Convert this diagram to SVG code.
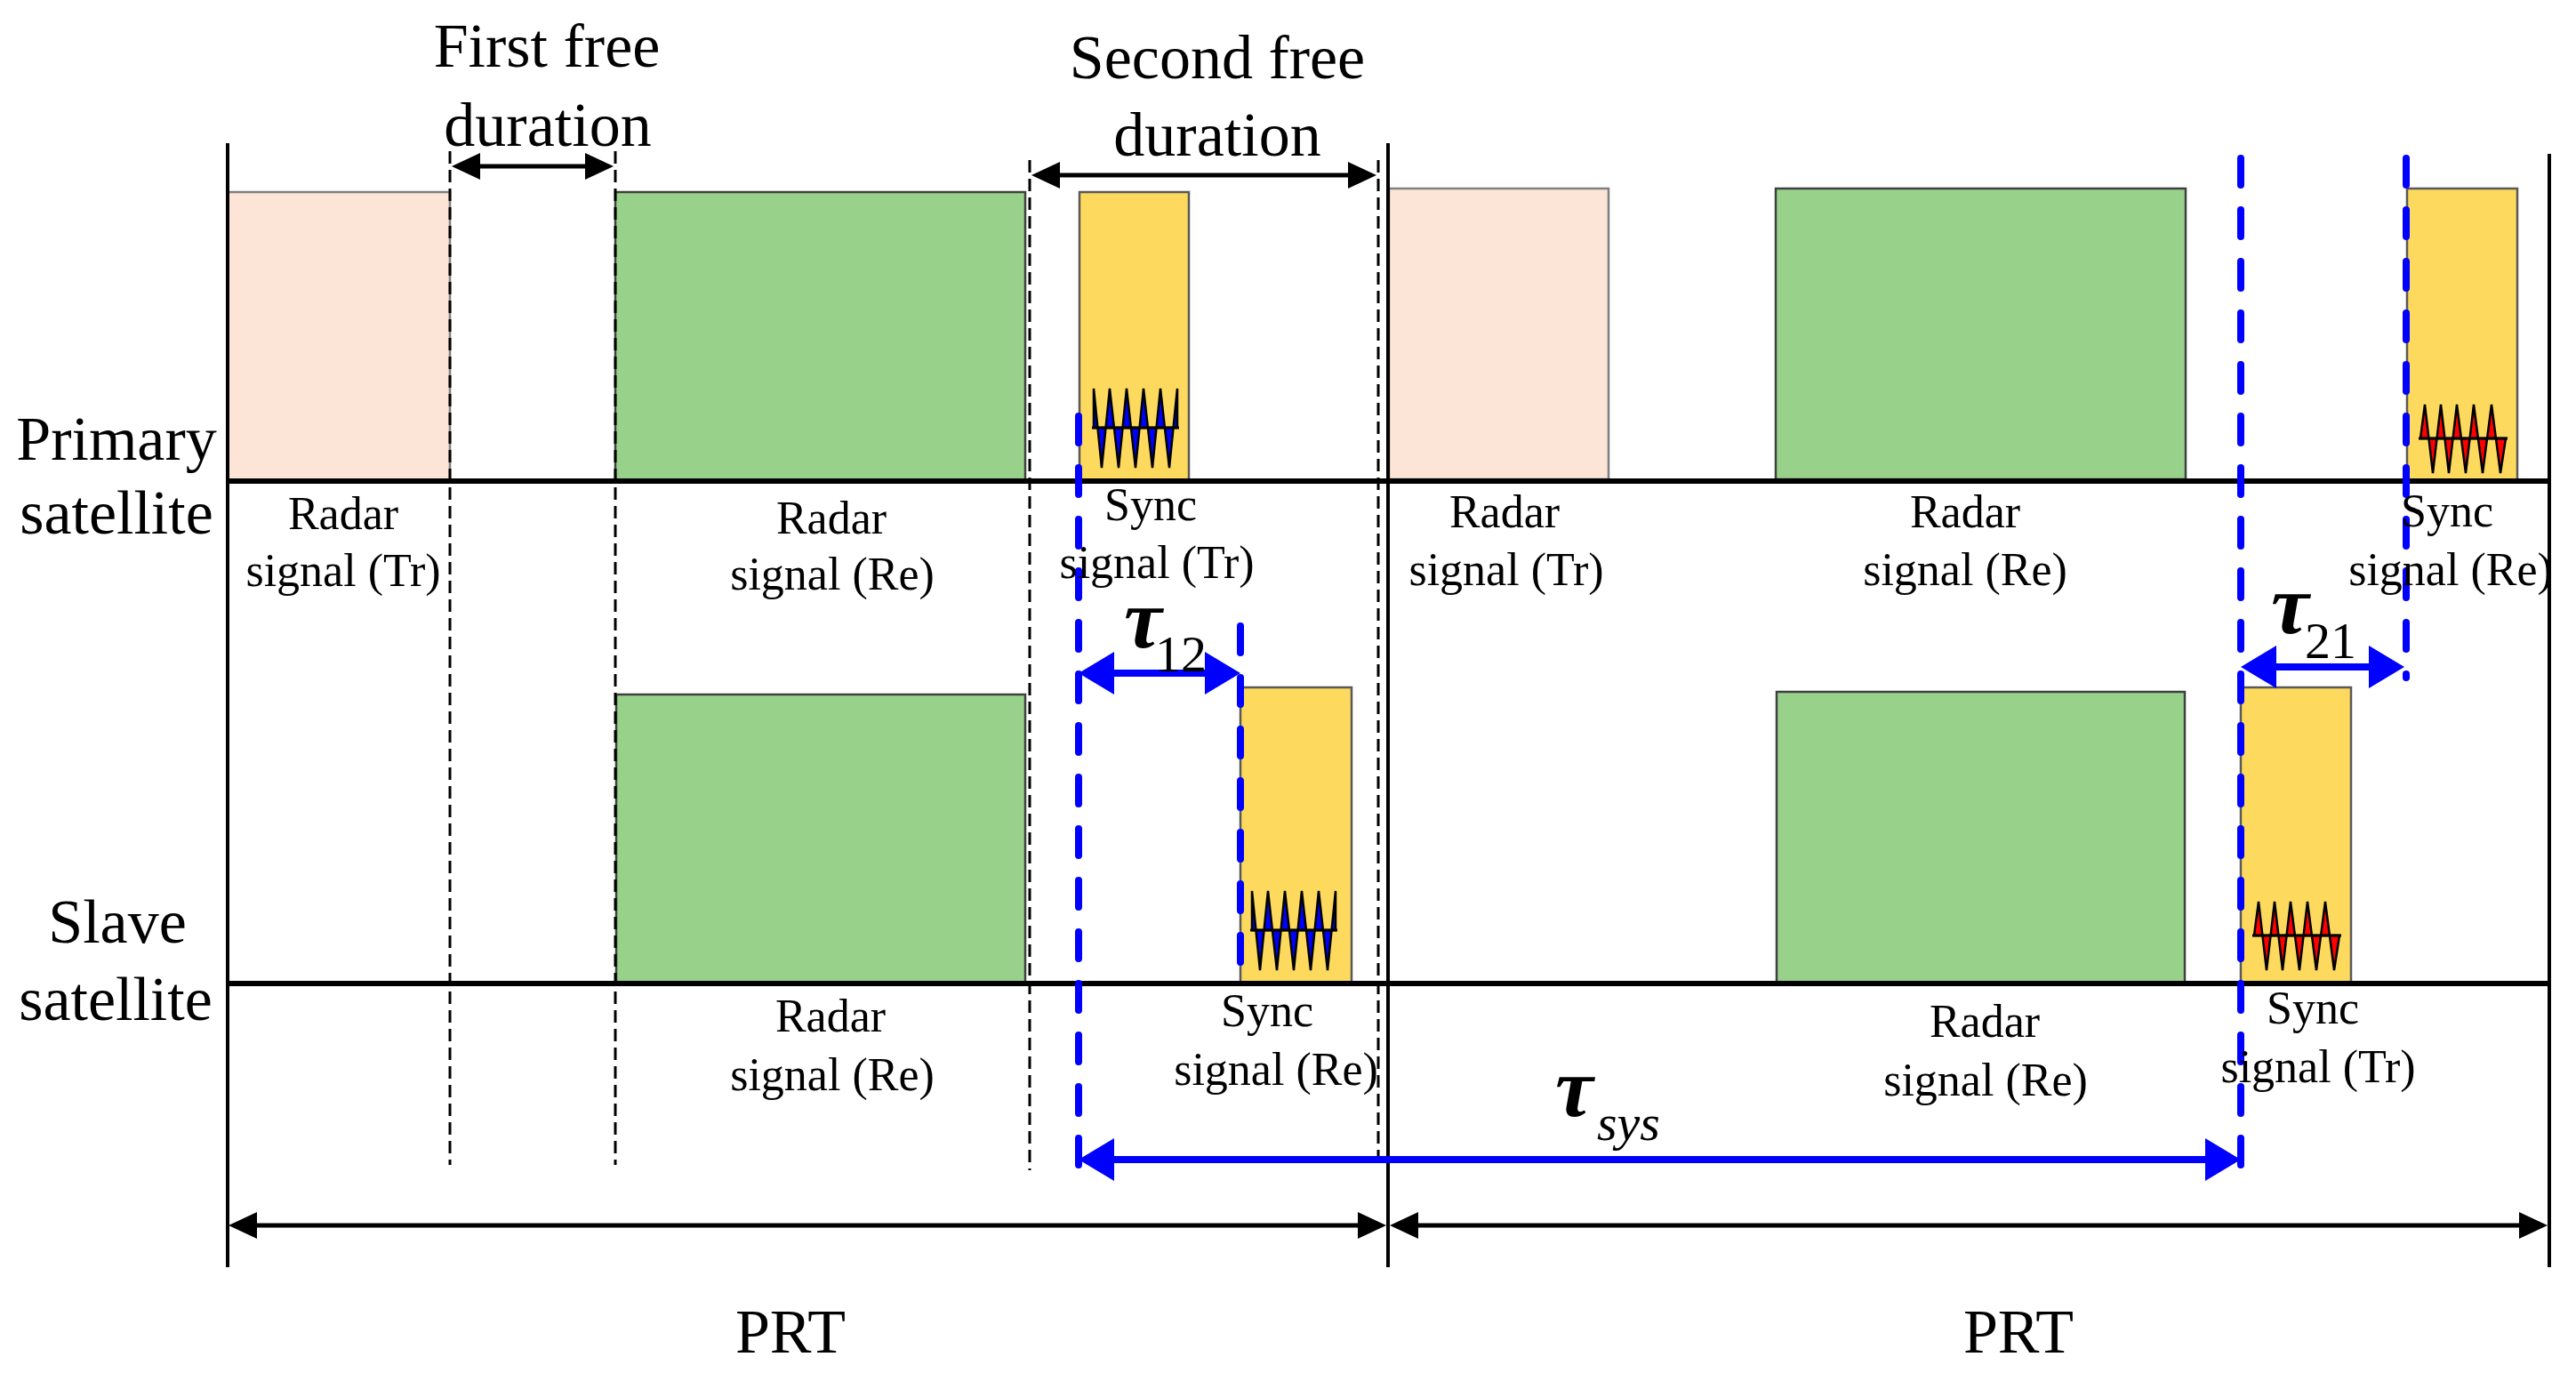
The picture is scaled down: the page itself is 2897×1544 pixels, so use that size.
<svg xmlns="http://www.w3.org/2000/svg" width="2897" height="1544" viewBox="0 0 2897 1544">
<style>
text{font-family:"Liberation Serif","Times New Roman",serif;fill:#000}
.lbl{font-size:52px;text-anchor:middle}
.big{font-size:70px;text-anchor:middle}
.tau{font-size:96px;font-style:italic;font-weight:bold}
.sub{font-size:58px}
.subi{font-size:58px;font-style:italic}
.ax{stroke:#000;stroke-width:6}
.vl{stroke:#000;stroke-width:4}
.dash{stroke:#000;stroke-width:3;stroke-dasharray:14 7}
.bdash{stroke:#0000FF;stroke-width:8;stroke-dasharray:30 28;stroke-linecap:round}
.peach{fill:#FCE4D6;stroke:#7F7F7F;stroke-width:2.5}
.green{fill:#98D28A;stroke:#404040;stroke-width:2.5}
.yellow{fill:#FDD95E;stroke:#595959;stroke-width:2.5}
.wb{fill:#0000FF;stroke:#000;stroke-width:2.5;stroke-linejoin:miter}
.wr{fill:#FF0000;stroke:#000;stroke-width:2.5}
.mid{stroke:#000;stroke-width:3}
.barr{stroke:#000;stroke-width:5;fill:none}
.blarr{stroke:#0000FF;stroke-width:8;fill:none}
</style>
<defs>
<marker id="ah" viewBox="0 0 32 30" refX="12" refY="15" markerWidth="32" markerHeight="30" markerUnits="userSpaceOnUse" orient="auto-start-reverse"><path d="M0,0 L32,15 L0,30 Z" fill="#000"/></marker>
<marker id="bh" viewBox="0 0 40 48" refX="20" refY="24" markerWidth="40" markerHeight="48" markerUnits="userSpaceOnUse" orient="auto-start-reverse"><path d="M0,0 L40,24 L0,48 Z" fill="#0000FF"/></marker>
<g id="wave-blue">
<path class="wb" d="M1230,481 L1230,437 L1239,526 L1248,437 L1258,526 L1267,437 L1277,526 L1286,437 L1296,526 L1305,437 L1315,526 L1324,437 L1324,481 Z"/>
<line class="mid" x1="1228" y1="481" x2="1326" y2="481"/>
</g>
<g id="wave-red">
<path class="wr" d="M2722,493 L2727,455 L2736,532 L2745,455 L2754,532 L2763,455 L2773,532 L2782,455 L2792,532 L2802,455 L2812,532 L2818,493 Z"/>
<line class="mid" x1="2720" y1="493" x2="2820" y2="493"/>
</g>
</defs>
<rect width="2897" height="1544" fill="#fff"/>

<g id="primary-radar-tr-1"><rect class="peach" x="256" y="216" width="250" height="325"/></g>
<g id="primary-radar-re-1"><rect class="green" x="692" y="216" width="461" height="325"/></g>
<g id="primary-sync-tr"><rect class="yellow" x="1214" y="216" width="123" height="325"/><use href="#wave-blue"/></g>
<g id="primary-radar-tr-2"><rect class="peach" x="1562" y="212" width="247" height="327"/></g>
<g id="primary-radar-re-2"><rect class="green" x="1997" y="212" width="461" height="327"/></g>
<g id="primary-sync-re"><rect class="yellow" x="2707" y="212" width="124" height="330"/><use href="#wave-red"/></g>

<g id="slave-radar-re-1"><rect class="green" x="693" y="781" width="460" height="325"/></g>
<g id="slave-sync-re"><rect class="yellow" x="1395" y="773" width="125" height="333"/><use href="#wave-blue" transform="translate(178,565)"/></g>
<g id="slave-radar-re-2"><rect class="green" x="1998" y="778" width="459" height="328"/></g>
<g id="slave-sync-tr"><rect class="yellow" x="2520" y="773" width="124" height="333"/><use href="#wave-red" transform="translate(-187,559)"/></g>

<g id="connectors">
<line class="dash" x1="506" y1="170" x2="506" y2="1310"/>
<line class="dash" x1="692" y1="170" x2="692" y2="1310"/>
<line class="dash" x1="1158" y1="180" x2="1158" y2="1316"/>
<line class="dash" x1="1550" y1="180" x2="1550" y2="1313"/>
<line class="vl" x1="256" y1="161" x2="256" y2="1425"/>
<line class="vl" x1="1561" y1="161" x2="1561" y2="1425"/>
<line class="vl" x1="2867" y1="173" x2="2867" y2="1425"/>
<line class="ax" x1="256" y1="541" x2="2867" y2="541"/>
<line class="ax" x1="256" y1="1106" x2="2867" y2="1106"/>
<line class="barr" x1="528" y1="187" x2="670" y2="187" marker-start="url(#ah)" marker-end="url(#ah)"/>
<line class="barr" x1="1180" y1="197" x2="1528" y2="197" marker-start="url(#ah)" marker-end="url(#ah)"/>
<line class="barr" x1="277" y1="1378" x2="1539" y2="1378" marker-start="url(#ah)" marker-end="url(#ah)"/>
<line class="barr" x1="1583" y1="1378" x2="2845" y2="1378" marker-start="url(#ah)" marker-end="url(#ah)"/>
<line class="bdash" x1="1213" y1="468" x2="1213" y2="1310"/>
<line class="bdash" x1="1395" y1="704" x2="1395" y2="1104"/>
<line class="bdash" x1="2520" y1="178" x2="2520" y2="1320"/>
<line class="bdash" x1="2706" y1="178" x2="2706" y2="762"/>
<line class="blarr" x1="1233" y1="757" x2="1375" y2="757" marker-start="url(#bh)" marker-end="url(#bh)"/>
<line class="blarr" x1="2540" y1="750" x2="2684" y2="750" marker-start="url(#bh)" marker-end="url(#bh)"/>
<line class="blarr" x1="1233" y1="1304" x2="2500" y2="1304" marker-start="url(#bh)" marker-end="url(#bh)"/>
</g>

<g id="labels">
<text class="big" x="615" y="75">First free</text>
<text class="big" x="616" y="164">duration</text>
<text class="big" x="1369" y="88">Second free</text>
<text class="big" x="1369" y="175">duration</text>
<text class="big" x="131" y="517">Primary</text>
<text class="big" x="131" y="600">satellite</text>
<text class="big" x="132" y="1060">Slave</text>
<text class="big" x="130" y="1147">satellite</text>
<text class="big" x="889" y="1521">PRT</text>
<text class="big" x="2270" y="1521">PRT</text>

<text class="lbl" x="386" y="595">Radar</text>
<text class="lbl" x="386" y="659">signal (Tr)</text>
<text class="lbl" x="935" y="600">Radar</text>
<text class="lbl" x="936" y="663">signal (Re)</text>
<text class="lbl" x="1294" y="585">Sync</text>
<text class="lbl" x="1301" y="650">signal (Tr)</text>
<text class="lbl" x="1692" y="593">Radar</text>
<text class="lbl" x="1694" y="658">signal (Tr)</text>
<text class="lbl" x="2210" y="593">Radar</text>
<text class="lbl" x="2210" y="658">signal (Re)</text>
<text class="lbl" x="2752" y="592">Sync</text>
<text class="lbl" x="2756" y="658">signal (Re)</text>

<text class="lbl" x="934" y="1160">Radar</text>
<text class="lbl" x="936" y="1226">signal (Re)</text>
<text class="lbl" x="1425" y="1154">Sync</text>
<text class="lbl" x="1435" y="1220">signal (Re)</text>
<text class="lbl" x="2232" y="1166">Radar</text>
<text class="lbl" x="2233" y="1232">signal (Re)</text>
<text class="lbl" x="2601" y="1151">Sync</text>
<text class="lbl" x="2607" y="1217">signal (Tr)</text>

<text class="tau" x="1264" y="728">τ</text>
<text class="sub" x="1299" y="755">12</text>
<text class="tau" x="2554" y="712">τ</text>
<text class="sub" x="2592" y="740">21</text>
<text class="tau" x="1749" y="1255">τ</text>
<text class="subi" x="1796" y="1282">sys</text>
</g>
</svg>
